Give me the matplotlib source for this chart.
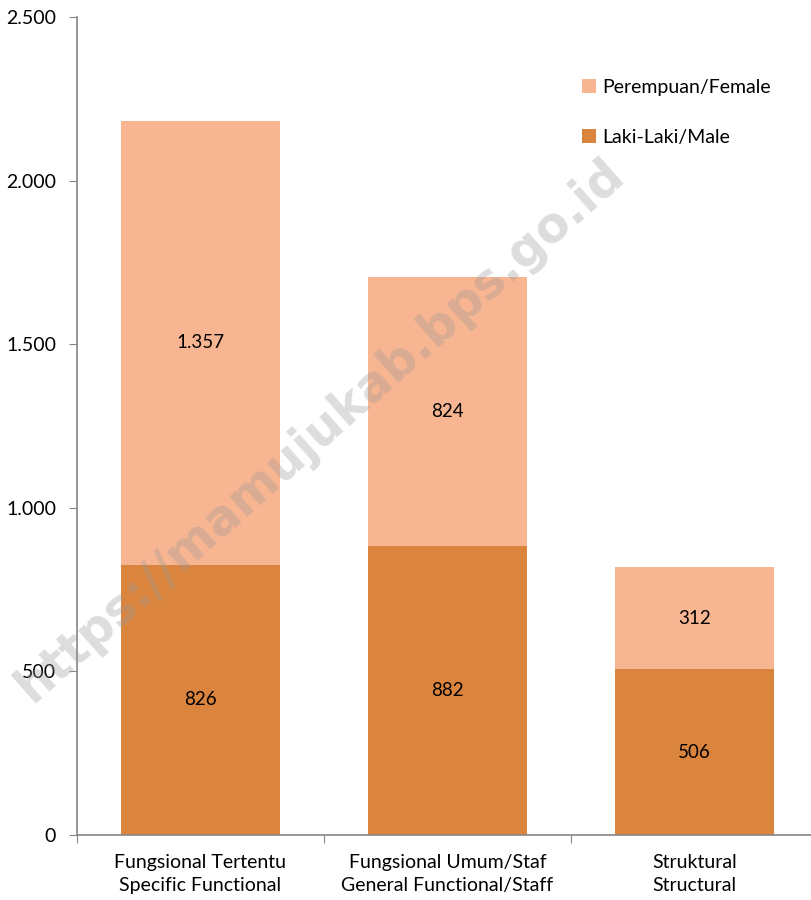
import matplotlib
matplotlib.use("Agg")
import matplotlib.pyplot as plt
from matplotlib.ticker import FuncFormatter

categories = ["Fungsional Tertentu\nSpecific Functional",
              "Fungsional Umum/Staf\nGeneral Functional/Staff",
              "Struktural\nStructural"]
male = [826, 882, 506]
female = [1357, 824, 312]
male_label = "Laki-Laki/Male"
female_label = "Perempuan/Female"
yticks = [0, 500, 1000, 1500, 2000, 2500]

c_male = "#DB843D"
c_female = "#F8B591"

plt.rcParams['font.family'] = ['Lato', 'DejaVu Sans']

def fmt(v):
    return f"{int(v):,}".replace(",", ".")

fig = plt.figure(figsize=(8.12, 9.0), dpi=100)
ax = fig.add_axes([77/812, 65/900, (818-77)/812, (835-17)/900])

x = list(range(len(categories)))
w = 0.64
b1 = ax.bar(x, male, width=w, color=c_male, label=male_label, zorder=2)
b2 = ax.bar(x, female, width=w, bottom=male, color=c_female, label=female_label, zorder=2)

for i in x:
    ax.text(i, male[i] / 2, fmt(male[i]), ha="center", va="center", fontsize=13.5, color="#000000", zorder=4)
    ax.text(i, male[i] + female[i] / 2, fmt(female[i]), ha="center", va="center", fontsize=13.5, color="#000000", zorder=4)

ax.set_xlim(-0.5, len(categories) - 0.5)
ax.set_ylim(0, 2500)
ax.set_yticks(yticks)
ax.yaxis.set_major_formatter(FuncFormatter(lambda v, p: fmt(v)))
ax.set_xticks([i + 0.5 for i in [-1] + x], minor=False)
ax.set_xticklabels([])
ax.set_xticks(x, minor=True)
ax.set_xticklabels(categories, minor=True, fontsize=14, linespacing=1.4)
ax.tick_params(axis="x", which="minor", length=0, pad=14)
ax.tick_params(axis="x", which="major", length=6, direction="out", color="#868686")
ax.tick_params(axis="y", length=6, direction="out", color="#868686", labelsize=14, pad=9)

for s in ["top", "right"]:
    ax.spines[s].set_visible(False)
for s in ["left", "bottom"]:
    ax.spines[s].set_color("#868686")
    ax.spines[s].set_linewidth(1.2)

handles = [b2, b1]
leg = ax.legend(handles, [female_label, male_label], loc="upper left",
                bbox_to_anchor=((574-77)/741, (835-71)/818), frameon=False,
                fontsize=14, handlelength=0.75, handleheight=0.75,
                handletextpad=0.3, labelspacing=1.7, borderaxespad=0)

fig.text(320/812, 1 - 430/900, "https://mamujukab.bps.go.id", rotation=41.5,
         ha="center", va="center", fontsize=35, fontweight="bold",
         color="#999999", alpha=0.33, zorder=10, family="DejaVu Sans")

fig.savefig("out.png", dpi=100)
